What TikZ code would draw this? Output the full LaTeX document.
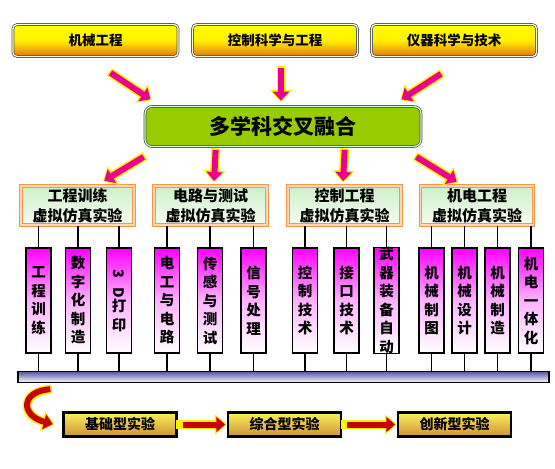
\documentclass[tikz,border=0pt]{standalone}
\usepackage{fontspec}
\newfontfamily\zh{Noto Sans CJK SC}
\usetikzlibrary{arrows.meta,calc}
\newcommand{\srcf}{\zh\bfseries\fontsize{13.5}{16}\selectfont}
\newcommand{\hubf}{\zh\bfseries\fontsize{21}{24}\selectfont}
\newcommand{\simf}{\zh\bfseries\fontsize{15}{20}\selectfont}
\newcommand{\crsf}{\zh\bfseries\fontsize{14.5}{18.5}\selectfont}
\newcommand{\lvlf}{\zh\bfseries\fontsize{14}{16}\selectfont}

\begin{document}
\begin{tikzpicture}[
  x=1pt, y=-1pt,
  src/.style = {rounded corners=4pt, draw=black!70, double=white!85!yellow, double distance=1.2pt,
                line width=0.7pt, top color=yellow, bottom color={rgb,255:red,226;green,118;blue,20},
                middle color=yellow!88!orange,
                minimum width=165pt, minimum height=32pt, font=\srcf},
  hub/.style = {rounded corners=7pt, draw=black!70, double=white!80!green, double distance=1.2pt,
                line width=0.7pt, fill={rgb,255:red,153;green,204;blue,0},
                minimum width=276pt, minimum height=40pt, font=\hubf},
  sim/.style = {draw={rgb,255:red,247;green,150;blue,70}, double={rgb,255:red,252;green,215;blue,185},
                double distance=1.6pt, line width=1pt,
                top color={rgb,255:red,205;green,240;blue,200}, bottom color={rgb,255:red,246;green,252;blue,243},
                minimum width=113pt, minimum height=39pt, align=center, inner sep=1pt, font=\simf},
  crs/.style = {draw, line width=1.3pt, top color=magenta, bottom color=white, middle color=magenta!30,
                minimum width=25pt, minimum height=105pt, align=center, inner sep=0pt, font=\crsf},
  bus/.style = {draw, line width=1.3pt, top color={rgb,255:red,85;green,85;blue,165}, bottom color=white,
                minimum width=531pt, minimum height=11pt, inner sep=0pt},
  lvl/.style = {draw, line width=2.5pt, top color={rgb,255:red,252;green,240;blue,90},
                bottom color={rgb,255:red,205;green,145;blue,55},
                minimum width=113pt, minimum height=24pt, font=\lvlf},
  ln/.style  = {line width=1.3pt},
  pk/.style  = {draw=magenta, line width=6pt, shorten >=1.5pt, -{Triangle[length=9pt,width=16pt]},
                preaction={draw=yellow, line width=9pt, shorten >=0pt, shorten <=-1.5pt,
                -{Triangle[length=12pt,width=21pt]}}},
  rd/.style  = {draw={rgb,255:red,200;green,0;blue,0}, line width=6pt, shorten >=1.5pt,
                -{Triangle[length=9pt,width=15pt]},
                preaction={draw=yellow, line width=9pt, shorten >=0pt, shorten <=-1.5pt,
                -{Triangle[length=12pt,width=20pt]}}}
]
\useasboundingbox (0,0) rectangle (555,469);

% ---------- top: disciplines ----------------------------------------
\node[src] (top1) at ( 95.5,40.5) {机械工程};
\node[src] (top2) at (275,40.5)   {控制科学与工程};
\node[src] (top3) at (454,40.5)   {仪器科学与技术};

% ---------- fusion hub ----------------------------------------------
\node[hub] (hub) at (283,126.5) {多学科交叉融合};

% ---------- virtual simulation labs --------------------------------
\node[sim] (m1) at ( 77.5,205.5) {工程训练\\虚拟仿真实验};
\node[sim] (m2) at (210.5,205.5) {电路与测试\\虚拟仿真实验};
\node[sim] (m3) at (344.5,205.5) {控制工程\\虚拟仿真实验};
\node[sim] (m4) at (477,205.5)   {机电工程\\虚拟仿真实验};

% ---------- courses --------------------------------------------------
\foreach \nm/\px/\tx in {
  t1/38.5/{工\\程\\训\\练}, t2/78/{数\\字\\化\\制\\造},
  t3/119/{\rotatebox{-90}{3}\\\rotatebox{-90}{D}\\打\\印},
  t4/167/{电\\工\\与\\电\\路}, t5/210/{传\\感\\与\\测\\试}, t6/253.5/{信\\号\\处\\理},
  t7/305/{控\\制\\技\\术}, t8/346.5/{接\\口\\技\\术}, t9/386.5/{武\\器\\装\\备\\自\\动},
  t10/431.5/{机\\械\\制\\图}, t11/464.5/{机\\械\\设\\计}, t12/497.5/{机\\械\\制\\造},
  t13/531/{机\\电\\一\\体\\化}}{
  \node[crs] (\nm) at (\px,300.5) {\tx};}

\node[bus] (bus) at (283.5,377) {};

% ---------- experiment levels --------------------------------------
\node[lvl] (b1) at (120,424.5)   {基础型实验};
\node[lvl] (b2) at (284.5,424.5) {综合型实验};
\node[lvl] (b3) at (454.5,424.5) {创新型实验};

% ---------- fat arrows ------------------------------------------------
\coordinate (a1) at ($(top1.south)+(15,16)$);  \coordinate (h1) at ($(hub.north west)+(7,-6)$);
\coordinate (a2) at ($(top2.south)+(6,11)$);   \coordinate (h2) at ($(hub.north)+(-2,-4)$);
\coordinate (a3) at ($(top3.south)+(-13,17)$); \coordinate (h3) at ($(hub.north east)+(-21,-6)$);
\draw[pk] (a1) -- (h1);
\draw[pk] (a2) -- (h2);
\draw[pk] (a3) -- (h3);

\coordinate (d1) at ($(hub.south west)+(-1,10)$);  \coordinate (e1) at ($(m1.north)+(25.5,-4)$);
\coordinate (d2) at ($(hub.south west)+(71,3)$);   \coordinate (e2) at ($(m2.north)+(3.5,-3)$);
\coordinate (d3) at ($(hub.south west)+(200,3)$);  \coordinate (e3) at ($(m3.north)+(-1.5,-3)$);
\coordinate (d4) at ($(hub.south east)+(-5,10)$);  \coordinate (e4) at ($(m4.north)+(-19,-3)$);
\foreach \i in {1,2,3,4}{\draw[pk] (d\i) -- (e\i);}

% ---------- wiring --------------------------------------------------
\foreach \mb/\tb in {m1/t1, m1/t2, m1/t3, m2/t4, m2/t5, m2/t6, m3/t7, m3/t8, m3/t9,
                     m4/t10, m4/t11, m4/t12, m4/t13}{
  \draw[ln] (\tb.north) -- (\tb.north |- \mb.south);
  \draw[ln] (\tb.south) -- (\tb.south |- bus.north);}

% ---------- level progression --------------------------------------
\coordinate (cv) at ($(bus.south west)+(33,6)$);
\draw[rd] (cv) .. controls ($(cv)+(-30,2)$) and ($(b1.west)+(-42,-9)$) .. ($(b1.west)+(-8,0)$);
\foreach \a/\b in {b1/b2, b2/b3}{\draw[rd, shorten <=5pt] (\a.east) -- (\b.west);}

\end{tikzpicture}
\end{document}
